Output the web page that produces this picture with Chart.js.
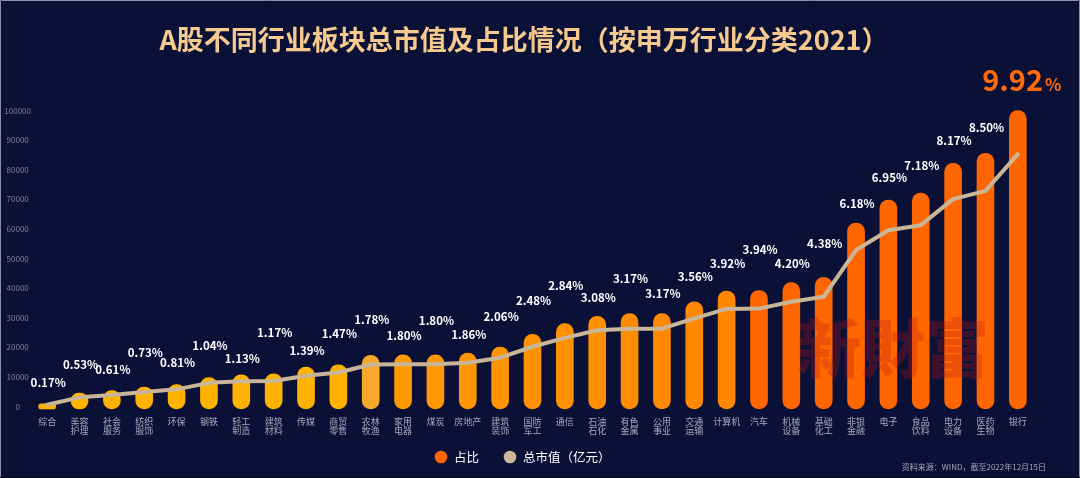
<!DOCTYPE html>
<html><head><meta charset="utf-8">
<script src="https://cdn.jsdelivr.net/npm/chart.js@4"></script>
<style>html,body{margin:0;padding:0;background:#0b1136;}#wrap{width:1080px;height:478px;position:relative;}canvas{display:block;}</style>
</head><body><div id="wrap"><canvas id="c" width="1080" height="478"></canvas></div>
<script>
const categories = ['综合','美容护理','社会服务','纺织服饰','环保','钢铁','轻工制造','建筑材料','传媒','商贸零售','农林牧渔','家用电器','煤炭','房地产','建筑装饰','国防军工','通信','石油石化','有色金属','公用事业','交通运输','计算机','汽车','机械设备','基础化工','非银金融','电子','食品饮料','电力设备','医药生物','银行'];
const sharePct = [0.17,0.53,0.61,0.73,0.81,1.04,1.13,1.17,1.39,1.47,1.78,1.80,1.80,1.86,2.06,2.48,2.84,3.08,3.17,3.17,3.56,3.92,3.94,4.20,4.38,6.18,6.95,7.18,8.17,8.50,9.92];
const marketCap = [600,3100,3900,4900,5800,8000,8500,8600,10400,11500,14200,14300,14300,14800,16500,20200,23200,25800,26300,26300,29800,33000,33100,35400,37100,52900,59600,61300,70100,72900,85300];
const yTickMax = 100000;
const yTickStep = 10000;
const seriesNames = ['占比','总市值（亿元）'];
const titleText = 'A股不同行业板块总市值及占比情况（按申万行业分类2021）';
const sourceNote = '资料来源：WIND，截至2022年12月15日';
const watermarkText = '新財富';
// layout only: how far each percentage label sits above its bar top (px)
const labelLift = [21,28,21,34,22,32,16,41,16,31,36,19,34,18,30,34,38,19,35,20,25,27,41,19,34,20,22,27,23,26,30];

const FONT = '"Noto Sans CJK SC","Noto Sans",sans-serif';
const BG = '#0b1136';
const ORANGE = '#FF6600';
const BEIGE = '#C9B597';

function barColor(i){
  if (i <= 9) return '#FFB300';
  if (i === 10) return '#F7A72A';
  if (i <= 21) {
    const t = (i - 11) / 10;
    const g = Math.round(0x9A + (0x86 - 0x9A) * t);
    return 'rgb(255,' + g + ',0)';
  }
  return ORANGE;
}
const barColors = categories.map((_, i) => barColor(i));

const bgPlugin = {
  id: 'bg',
  beforeDraw(chart){
    const ctx = chart.ctx;
    ctx.save();
    ctx.fillStyle = BG;
    ctx.fillRect(0, 0, chart.width, chart.height);
    ctx.restore();
  },
  afterDraw(chart){
    const ctx = chart.ctx;
    const W = chart.width, H = chart.height;
    ctx.save();
    // title
    ctx.font = 'bold 27px ' + FONT;
    ctx.fillStyle = '#F6C98F';
    ctx.textAlign = 'center';
    ctx.textBaseline = 'middle';
    ctx.fillText(titleText, 524, 40);
    // legend
    const items = [
      {label: seriesNames[0], color: ORANGE, cx: 441},
      {label: seriesNames[1], color: '#CDB89C', cx: 510}
    ];
    ctx.font = '12.5px ' + FONT;
    ctx.textAlign = 'left';
    items.forEach(it => {
      ctx.beginPath();
      ctx.fillStyle = it.color;
      ctx.arc(it.cx, 457, 6.3, 0, Math.PI * 2);
      ctx.fill();
      ctx.fillStyle = '#ffffff';
      ctx.fillText(it.label, it.cx + 13, 457);
    });
    // source note
    ctx.font = '8px ' + FONT;
    ctx.fillStyle = '#A3A6B8';
    ctx.textAlign = 'right';
    ctx.fillText(sourceNote, 1046, 466.5);
    // frame
    ctx.strokeStyle = '#8a8ea6';
    ctx.lineWidth = 1;
    ctx.beginPath();
    ctx.moveTo(0.5, H); ctx.lineTo(0.5, 0.5); ctx.lineTo(W - 0.5, 0.5); ctx.lineTo(W - 0.5, H);
    ctx.stroke();
    ctx.strokeStyle = '#05071a';
    ctx.beginPath();
    ctx.moveTo(0, H - 0.5); ctx.lineTo(W, H - 0.5);
    ctx.stroke();
    ctx.restore();
  }
};

const labelPlugin = {
  id: 'barLabels',
  afterDatasetsDraw(chart){
    const ctx = chart.ctx;
    const area = chart.chartArea;
    ctx.save();
    // watermark
    ctx.font = '900 64px "Noto Sans CJK TC",' + FONT;
    ctx.fillStyle = 'rgba(190,20,25,0.28)';
    ctx.textAlign = 'center';
    ctx.textBaseline = 'middle';
    ctx.fillText(watermarkText, area.right - 141, area.top + 237);
    // percentage labels
    const meta = chart.getDatasetMeta(chart.data.datasets.findIndex(d => d.type === 'bar'));
    const maxVal = Math.max(...sharePct);
    meta.data.forEach((el, i) => {
      const v = sharePct[i];
      const num = v.toFixed(2);
      if (v === maxVal) {
        ctx.fillStyle = '#FF6A0A';
        ctx.textBaseline = 'alphabetic';
        ctx.font = 'bold 29px ' + FONT;
        const w1 = ctx.measureText(num).width;
        ctx.font = 'bold 17px ' + FONT;
        const w2 = ctx.measureText('%').width;
        const left = el.x + 4 - (w1 + w2 + 2) / 2;
        const base = el.y - labelLift[i] + 10;
        ctx.textAlign = 'left';
        ctx.font = 'bold 29px ' + FONT;
        ctx.fillText(num, left, base);
        ctx.font = 'bold 17px ' + FONT;
        ctx.fillText('%', left + w1 + 2, base);
      } else {
        ctx.fillStyle = '#ffffff';
        ctx.textAlign = 'center';
        ctx.textBaseline = 'middle';
        ctx.font = 'bold 11.5px ' + FONT;
        ctx.fillText(num + '%', el.x + 1, el.y - labelLift[i]);
      }
    });
    ctx.restore();
  }
};

new Chart(document.getElementById('c'), {
  data: {
    labels: categories,
    datasets: [
      {
        type: 'line',
        label: seriesNames[1],
        data: marketCap,
        yAxisID: 'y',
        borderColor: BEIGE,
        backgroundColor: BEIGE,
        borderWidth: 4,
        pointRadius: 0,
        tension: 0,
        borderCapStyle: 'round',
        borderJoinStyle: 'round',
        order: 0
      },
      {
        type: 'bar',
        label: seriesNames[0],
        data: sharePct,
        yAxisID: 'y1',
        backgroundColor: barColors,
        barThickness: 17,
        borderRadius: 9,
        borderSkipped: false,
        clip: false,
        order: 1
      }
    ]
  },
  options: {
    responsive: false,
    animation: false,
    devicePixelRatio: 1,
    events: [],
    layout: { padding: { top: 110.7, right: 46, bottom: 0, left: 0 } },
    plugins: { legend: { display: false }, tooltip: { enabled: false }, title: { display: false } },
    scales: {
      x: {
        offset: true,
        grid: { display: false, drawTicks: false },
        border: { display: false },
        ticks: {
          autoSkip: false,
          maxRotation: 0,
          padding: 11,
          color: '#A6A9BC',
          font: { family: FONT, size: 9, lineHeight: 1 },
          callback: function(v, i){
            const s = categories[i];
            return s.length === 4 ? [s.slice(0, 2), s.slice(2)] : s;
          }
        },
        afterFit: s => { s.height = 71.5; }
      },
      y: {
        position: 'left',
        min: 0,
        max: yTickMax,
        grid: { display: false, drawTicks: false },
        border: { display: false },
        ticks: {
          stepSize: yTickStep,
          padding: 0,
          crossAlign: 'center',
          color: '#7C8199',
          font: { family: FONT, size: 8 },
          callback: v => String(v)
        },
        afterFit: s => { s.width = 31; }
      },
      y1: {
        display: false,
        min: 0.08,
        max: 9.92
      }
    }
  },
  plugins: [bgPlugin, labelPlugin]
});
</script>
</body></html>
